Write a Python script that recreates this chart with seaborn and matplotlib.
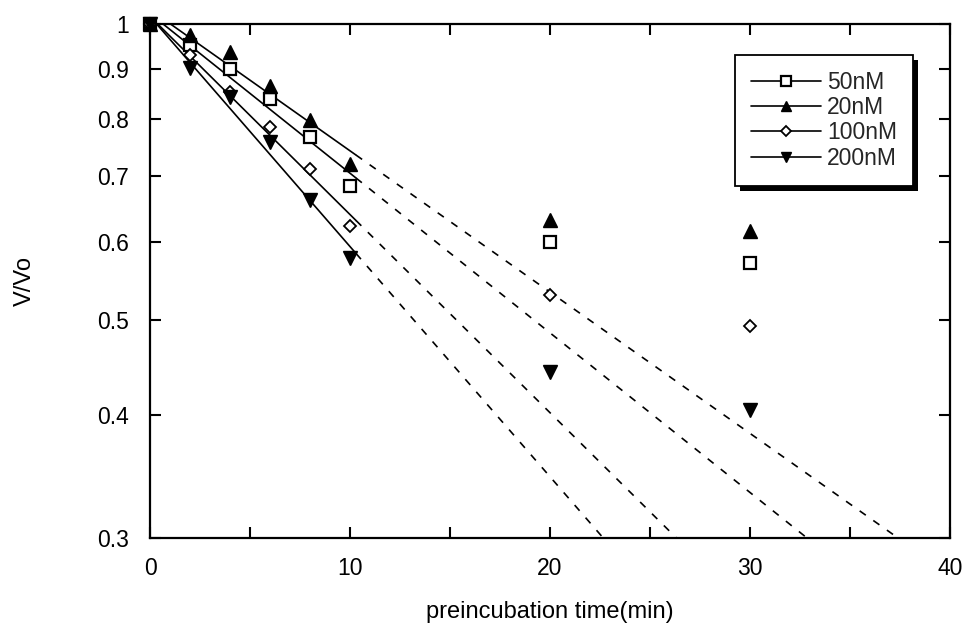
import numpy as np
import pandas as pd
import seaborn as sns
import matplotlib.pyplot as plt
import matplotlib.patheffects as pe
from matplotlib.lines import Line2D
from matplotlib.ticker import MultipleLocator, NullLocator

# dados
t = [0, 2, 4, 6, 8, 10, 20, 30]
v_50 = [1.0, 0.952, 0.900, 0.839, 0.767, 0.684, 0.600, 0.571]
v_20 = [1.0, 0.974, 0.937, 0.865, 0.799, 0.720, 0.632, 0.616]
v_100 = [1.0, 0.930, 0.853, 0.786, 0.712, 0.623, 0.530, 0.493]
v_200 = [1.0, 0.902, 0.843, 0.759, 0.662, 0.578, 0.443, 0.405]
labels = ["50nM", "20nM", "100nM", "200nM"]
series = [v_50, v_20, v_100, v_200]

sns.set_theme(style="ticks")
plt.rcParams["font.family"] = ["Liberation Sans", "DejaVu Sans"]

fig = plt.figure(figsize=(9.66, 6.29), dpi=100)
ax = fig.add_axes([0.1553, 0.1447, 0.8281, 0.8171])

estilos = {
    "50nM": dict(marker="s", markersize=9, markerfacecolor="white", markeredgewidth=1.6),
    "20nM": dict(marker="^", markersize=10, markerfacecolor="black", markeredgewidth=1.0),
    "100nM": dict(marker="D", markersize=6.5, markerfacecolor="white", markeredgewidth=1.3),
    "200nM": dict(marker="v", markersize=10.5, markerfacecolor="black", markeredgewidth=1.0),
}

# ajuste exponencial (linear no log) com os pontos de 0 a 10 min
tt = np.array(t, dtype=float)
for lab, v in zip(labels, series):
    v = np.array(v)
    b, a = np.polyfit(tt[:6], np.log(v[:6]), 1)
    x1 = np.linspace(0, 10.3, 50)
    x2 = np.linspace(10.3, 40, 200)
    df1 = pd.DataFrame({"x": x1, "y": np.exp(a + b * x1)})
    df2 = pd.DataFrame({"x": x2, "y": np.exp(a + b * x2)})
    sns.lineplot(data=df1, x="x", y="y", ax=ax, color="black", linewidth=1.2, zorder=2)
    sns.lineplot(data=df2, x="x", y="y", ax=ax, color="black", linewidth=1.2,
                 linestyle=(0, (4.5, 5.5)), zorder=2)

for lab, v in zip(labels, series):
    ax.plot(t, v, linestyle="none", color="black", markeredgecolor="black",
            clip_on=False, zorder=5, **estilos[lab])

ax.set_yscale("log")
ax.set_xlim(0, 40)
ax.set_ylim(0.3, 1.0)
yt = [0.3, 0.4, 0.5, 0.6, 0.7, 0.8, 0.9, 1.0]
ax.set_yticks(yt)
ax.set_yticklabels(["0.3", "0.4", "0.5", "0.6", "0.7", "0.8", "0.9", "1"])
ax.yaxis.set_minor_locator(NullLocator())
ax.set_xticks([0, 10, 20, 30, 40])
ax.xaxis.set_minor_locator(MultipleLocator(5))

ax.tick_params(axis="both", which="both", direction="in", top=True, right=True,
               length=8, width=1.5, color="black", labelsize=16.5,
               labelcolor="black")
ax.tick_params(axis="x", pad=14)
ax.tick_params(axis="y", pad=15)
for s in ax.spines.values():
    s.set_linewidth(1.6)
    s.set_color("black")

ax.set_xlabel("preincubation time(min)", fontsize=17, labelpad=15, color="black")
ax.set_ylabel("V/Vo", fontsize=17, labelpad=44, color="black")

handles = []
for lab in labels:
    st = dict(estilos[lab])
    st["markersize"] = st["markersize"] * 0.75
    handles.append(Line2D([], [], color="black", linewidth=1.2, markeredgecolor="black", **st))

leg = ax.legend(handles, labels, loc="upper right", bbox_to_anchor=(0.954, 0.94),
                fontsize=16.5, frameon=True, fancybox=False, edgecolor="black",
                facecolor="white", framealpha=1,
                handlelength=3.05, handletextpad=0.26, labelspacing=0.1,
                borderpad=0.7, borderaxespad=0)
leg.get_frame().set_linewidth(1.3)
leg.get_frame().set_path_effects([
    pe.SimplePatchShadow(offset=(3.5, -3.5), shadow_rgbFace="black", alpha=1),
    pe.Normal(),
])

fig.savefig("out.png", dpi=100, facecolor="white")
